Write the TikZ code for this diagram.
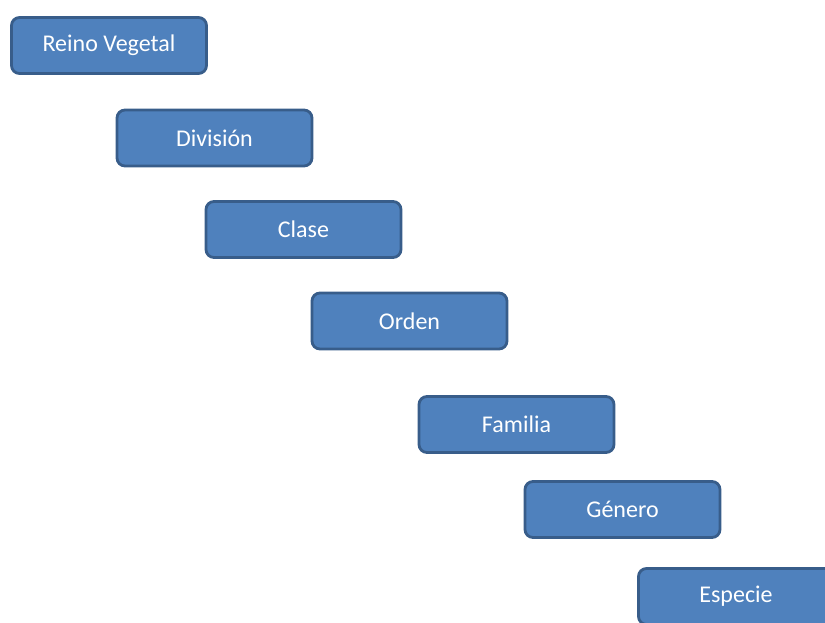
\documentclass[tikz,border=0pt]{standalone}
\usepackage{fontspec}
\setmainfont{Carlito}
\definecolor{boxfill}{HTML}{4F81BD}
\definecolor{boxline}{HTML}{385D8A}
\begin{document}
\begin{tikzpicture}[x=1pt,y=-1pt,
  rank/.style={draw=boxline, fill=boxfill, line width=2.8pt, rounded corners=8pt,
    minimum width=195pt, minimum height=56pt, inner sep=0pt,
    text=white, font=\fontsize{24}{28}\selectfont}]
  \useasboundingbox (0,0) rectangle (825,622);
  \begin{scope}
    \clip (0,0) rectangle (825,622);
    \node[rank] (reino)    at (109,45.5)   {Reino Vegetal};
    \node[rank] (division) at (214.5,138)  {División};
    \node[rank] (clase)    at (303.5,229.5){Clase};
    \node[rank] (orden)    at (409.5,321)  {Orden};
    \node[rank] (familia)  at (516.5,424.5){Familia};
    \node[rank] (genero)   at (622.5,509.5){Género};
    \node[rank] (especie)  at (736,596.5)  {Especie};
  \end{scope}
\end{tikzpicture}
\end{document}
